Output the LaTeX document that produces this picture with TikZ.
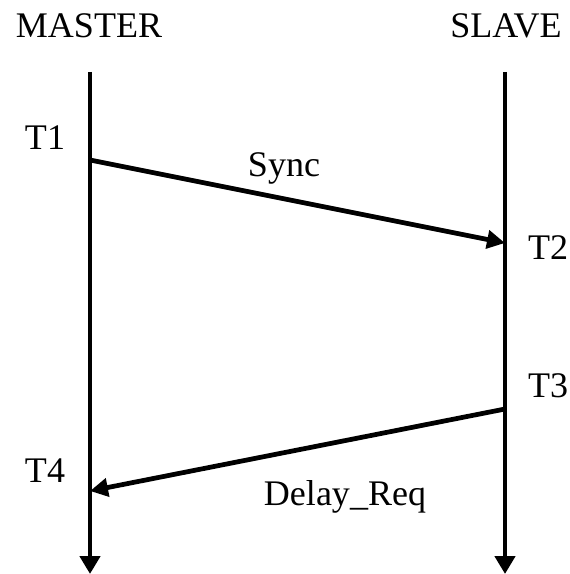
\documentclass[tikz,border=0pt]{standalone}
\usepackage{fontspec}
\setmainfont{Liberation Serif}
\usetikzlibrary{arrows.meta}
\tikzset{
  lifeline/.style={line width=2.7pt, -{Triangle[length=0.36cm, width=0.4cm]}},
  msg/.style={line width=2.7pt, -{Triangle[length=0.36cm, width=0.36cm]}},
  lbl/.style={font=\fontsize{20.5}{24}\selectfont, inner sep=0pt, anchor=base},
}

\begin{document}
\begin{tikzpicture}[x=0.02cm, y=-0.02cm]
  \useasboundingbox (0,0) rectangle (570,574);

  % headers
  \node[lbl] (master) at (89,38) {MASTER};
  \node[lbl] (slave) at (506,38) {SLAVE};

  % lifelines
  \coordinate (mtop) at (90,72);
  \coordinate (mbot) at (90,574);
  \coordinate (stop) at (505,72);
  \coordinate (sbot) at (505,574);
  \draw[lifeline] (mtop) -- (mbot);
  \draw[lifeline] (stop) -- (sbot);

  % event points
  \coordinate (t1pt) at (90,160);
  \coordinate (t2pt) at (505,243);
  \coordinate (t3pt) at (505,409);
  \coordinate (t4pt) at (90,491);

  % messages
  \draw[msg] (t1pt) -- (t2pt);
  \draw[msg] (t3pt) -- (t4pt);

  % labels
  \node[lbl] (t1) at (45,150) {T1};
  \node[lbl] (sync) at (284,176) {Sync};
  \node[lbl] (t2) at (548,259) {T2};
  \node[lbl] (t3) at (548,397) {T3};
  \node[lbl] (t4) at (45,482) {T4};
  \node[lbl] (delay) at (345,505) {Delay\_Req};
\end{tikzpicture}
\end{document}
